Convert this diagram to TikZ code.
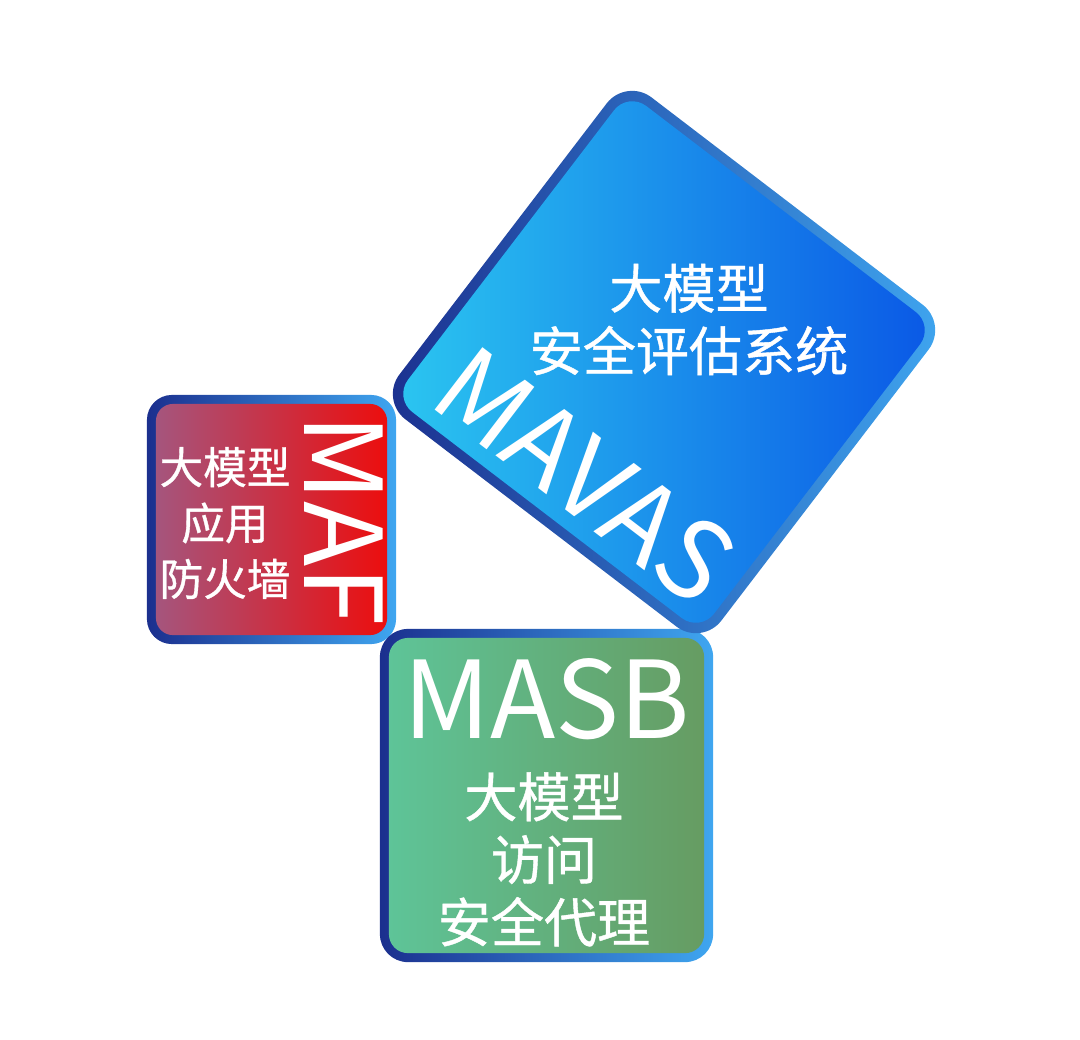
\documentclass[tikz,border=0pt]{standalone}
\usepackage{tikz}
\usepackage{xcolor}
\usepackage{fontspec}
\newfontfamily\cjk{Noto Sans CJK SC}
\newfontfamily\cjkheavy[FakeBold=0.8]{Noto Sans CJK SC}
\definecolor{rimdark}{HTML}{1B2F8E}
\definecolor{rimlight}{HTML}{3FA6F0}
\definecolor{mafleft}{HTML}{A5557D}
\definecolor{mafright}{HTML}{EC0E0E}
\definecolor{masbleft}{HTML}{5EC498}
\definecolor{masbright}{HTML}{669C62}
\definecolor{mavasleft}{HTML}{2BC6F0}
\definecolor{mavasright}{HTML}{0A58E6}

\begin{document}
\begin{tikzpicture}[x=0.01cm,y=-0.01cm]
    \tikzstyle{rim}=[rectangle,inner sep=0pt,left color=rimdark,right color=rimlight]
    \tikzstyle{panel}=[rectangle,inner sep=0pt]
    \tikzstyle{label}=[text=white,align=center,inner sep=0pt]
    \tikzstyle{bigname}=[label,font=\cjk\fontsize{30.5}{36}\selectfont]
    \tikzstyle{smallcn}=[label,font=\cjkheavy\fontsize{12.4}{15.9}\selectfont]
    \tikzstyle{largecn}=[label,font=\cjkheavy\fontsize{15.1}{17.8}\selectfont]
    \useasboundingbox (0,0) rectangle (1080,1039);
    % MAF
    \node[rim,minimum size=2.49cm,rounded corners=0.25cm] (maf) at (271.5,519.5) {};
    \node[panel,minimum size=2.31cm,rounded corners=0.17cm,left color=mafleft,right color=mafright] (mafin) at (maf) {};
    \node[smallcn] (maftext) at (225,523) {大模型\\应用\\防火墙};
    \node[bigname,rotate=-90] (mafname) at (344,520) {MAF};
    % MASB
    \node[rim,minimum size=3.33cm,rounded corners=0.28cm] (masb) at (546.5,795.5) {};
    \node[panel,minimum size=3.15cm,rounded corners=0.19cm,left color=masbleft,right color=masbright] (masbin) at (masb) {};
    \node[bigname] (masbname) at (547,699) {MASB};
    \node[largecn] (masbtext) at (544,859.5) {大模型\\访问\\安全代理};
    % MAVAS
    \node[rim,rotate=-37.4,minimum size=4.05cm,rounded corners=0.32cm] (mavas) at (664,362) {};
    \node[panel,rotate=-37.4,minimum size=3.85cm,rounded corners=0.23cm,left color=mavasleft,right color=mavasright] (mavasin) at (mavas) {};
    \node[largecn] (mavastext) at (689,319.5) {大模型\\安全评估系统};
    \node[bigname,rotate=-37.4] (mavasname) at (585,475) {MAVAS};
\end{tikzpicture}
\end{document}
